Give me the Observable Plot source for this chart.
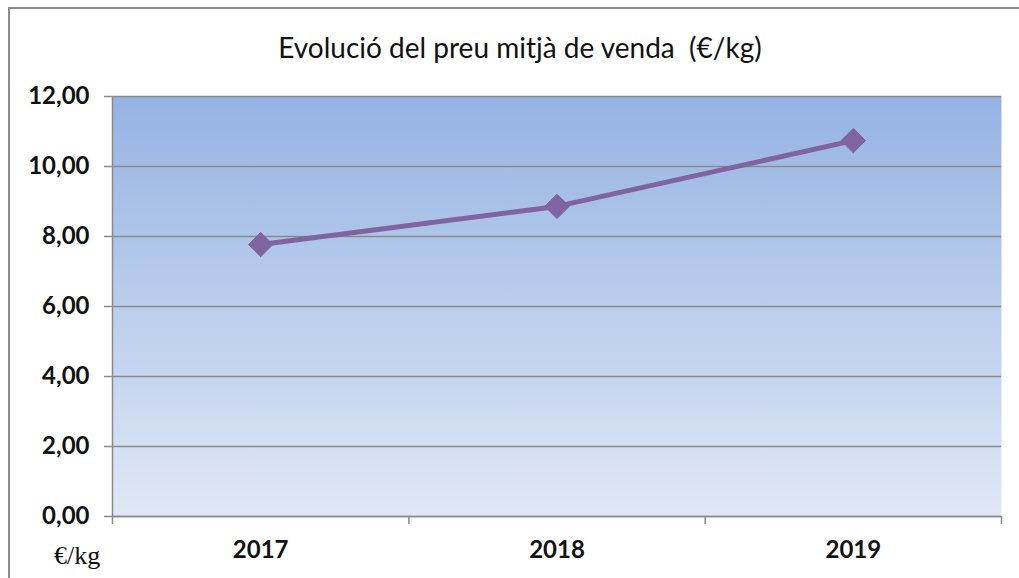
<!DOCTYPE html>
<html>
<head>
<meta charset="utf-8">
<script src="https://cdn.jsdelivr.net/npm/d3@7"></script>
<script src="https://cdn.jsdelivr.net/npm/@observablehq/plot@0.6"></script>
<style>
  html, body { margin: 0; padding: 0; background: #fff; }
  #wrap { position: relative; width: 1019px; height: 578px; overflow: hidden; }
  #border { position: absolute; left: 8px; top: 7px; width: 1030px; height: 600px; border-left: 2px solid #8c8c8c; border-top: 2px solid #8c8c8c; box-sizing: border-box; }
  #title { position: absolute; left: 0; width: 1040px; top: 30px; text-align: center; font-family: Lato, "Open Sans", sans-serif; font-size: 28px; color: #111; }
  #unit { position: absolute; left: 54px; top: 541px; font-family: "Liberation Serif", "DejaVu Serif", serif; font-size: 26px; color: #111; }
  #chart { position: absolute; left: 0; top: 0; }
</style>
</head>
<body>
<div id="wrap">
  <div id="border"></div>
  <div id="chart"></div>
  <div id="title">Evolució del preu mitjà de venda&nbsp; (€/kg)</div>
  <div id="unit">€/kg</div>
</div>
<script>
const years = ["2017", "2018", "2019"];
const prices = [7.77, 8.86, 10.74];
const yTicks = [0, 2, 4, 6, 8, 10, 12];

const data = years.map((y, i) => ({pos: i + 1, year: y, price: prices[i]}));
const boundaries = d3.range(years.length + 1).map(i => i + 0.5);
const fmt = d => d.toFixed(2).replace(".", ",");

const chart = Plot.plot({
  width: 1019,
  height: 578,
  marginLeft: 112,
  marginRight: 18,
  marginTop: 96,
  marginBottom: 62,
  style: {background: "transparent", fontFamily: "Lato, 'Open Sans', sans-serif", overflow: "visible"},
  x: {type: "linear", domain: [0.5, years.length + 0.5]},
  y: {domain: [0, 12]},
  marks: [
    Plot.frame({fill: "url(#bgGrad)", stroke: null}),
    Plot.gridY(yTicks, {stroke: "#8a8a8a", strokeOpacity: 1, strokeWidth: 1.5}),
    Plot.ruleX([0.5], {stroke: "#8a8a8a", strokeWidth: 1.5}),
    Plot.axisY({ticks: yTicks, tickSize: 8, tickPadding: 15, tickFormat: fmt, fontSize: 24, fontWeight: "bold", stroke: "#8a8a8a", strokeWidth: 1.5, fill: "#111", label: null}),
    Plot.axisX({ticks: boundaries, tickSize: 8, tickFormat: () => "", stroke: "#8a8a8a", strokeWidth: 1.5, label: null}),
    Plot.axisX({ticks: data.map(d => d.pos), tickSize: 0, tickPadding: 24, tickFormat: p => years[p - 1], fontSize: 24, fontWeight: "bold", fill: "#111", label: null}),
    Plot.ruleY([0], {stroke: "#8a8a8a", strokeWidth: 1.5}),
    Plot.line(data, {x: "pos", y: "price", stroke: "#8064a2", strokeWidth: 5}),
    Plot.dot(data, {x: "pos", y: "price", symbol: "diamond2", r: 11, fill: "#8064a2", stroke: "#8064a2", strokeWidth: 1})
  ]
});

const defs = d3.select(chart).insert("defs", ":first-child");
const g = defs.append("linearGradient").attr("id", "bgGrad").attr("x1", 0).attr("y1", 0).attr("x2", 0).attr("y2", 1);
g.append("stop").attr("offset", "0%").attr("stop-color", "#95b3e3");
g.append("stop").attr("offset", "100%").attr("stop-color", "#e0e8f6");

document.getElementById("chart").appendChild(chart);
</script>
</body>
</html>
